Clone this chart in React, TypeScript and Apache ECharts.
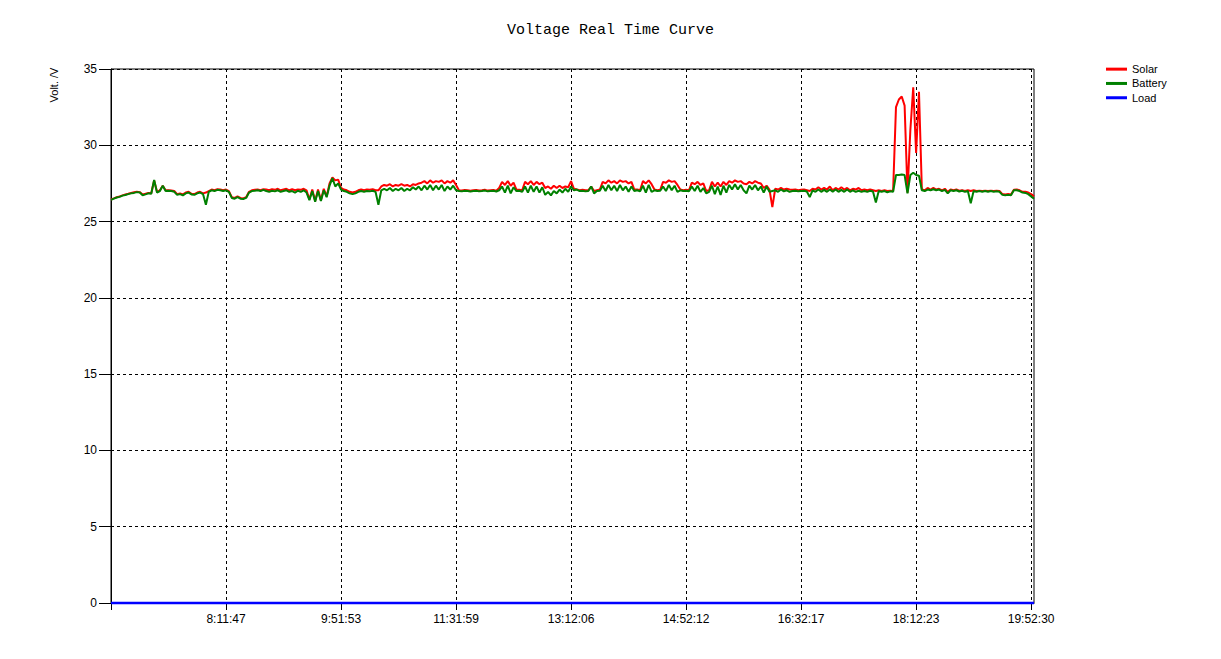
import React, { useEffect, useRef } from "react";
import * as echarts from "echarts";

// Tick labels of the time axis (one every 40 samples)
const timeTicks = ["8:11:47", "9:51:53", "11:31:59", "13:12:06", "14:52:12", "16:32:17", "18:12:23", "19:52:30"];
const samplesPerTick = 40;

const seriesNames = ["Solar", "Battery", "Load"];
const seriesColors = ["#ff0000", "#008000", "#0000ff"];

// Solar panel voltage (V)
const solar = [
  26.45, 26.52, 26.6, 26.65, 26.72, 26.78, 26.82, 26.88, 26.92, 26.95,
  26.93, 26.78, 26.82, 26.88, 26.86, 27.7, 26.95, 27.05, 27.35, 27.05,
  27.05, 27.03, 27.0, 26.8, 26.85, 26.78, 26.9, 26.95, 26.82, 26.8,
  26.9, 26.95, 26.85, 26.9, 27.0, 27.1, 27.05, 27.12, 27.1, 27.05,
  27.1, 27.0, 26.6, 26.55, 26.65, 26.55, 26.52, 26.6, 26.95, 27.05,
  27.08, 27.1, 27.05, 27.12, 27.1, 27.05, 27.12, 27.08, 27.15, 27.05,
  27.1, 27.15, 27.05, 27.12, 27.05, 27.1, 27.08, 27.15, 27.05, 26.45,
  27.1, 26.35, 27.1, 26.4, 27.15, 26.65, 27.5, 27.9, 27.7, 27.75,
  27.2, 27.1, 27.05, 26.95, 26.9, 26.95, 27.05, 27.1, 27.05, 27.1,
  27.08, 27.12, 27.05, 27.05, 27.3, 27.4, 27.35, 27.45, 27.3, 27.4,
  27.35, 27.45, 27.35, 27.4, 27.3, 27.45, 27.4, 27.5, 27.55, 27.65,
  27.5, 27.7, 27.55, 27.65, 27.6, 27.7, 27.5, 27.65, 27.55, 27.7,
  27.4, 27.05, 27.03, 27.07, 27.05, 27.02, 27.05, 27.07, 27.03, 27.05,
  27.08, 27.03, 27.05, 27.07, 27.02, 27.2, 27.6, 27.4, 27.65, 27.35,
  27.55, 27.1, 27.08, 27.05, 27.6, 27.45, 27.65, 27.4, 27.6, 27.45,
  27.55, 27.2, 27.3, 27.15, 27.35, 27.2, 27.35, 27.2, 27.3, 27.25,
  27.65, 27.15, 27.1, 27.05, 27.08, 27.05, 27.05, 27.3, 27.0, 27.05,
  27.1, 27.6, 27.5, 27.7, 27.55, 27.65, 27.5, 27.7, 27.6, 27.65,
  27.5, 27.6, 27.1, 27.1, 27.05, 27.65, 27.5, 27.7, 27.45, 27.1,
  27.05, 27.08, 27.6, 27.55, 27.7, 27.6, 27.65, 27.4, 27.1, 27.05,
  27.08, 27.05, 27.55, 27.45, 27.6, 27.4, 27.5, 27.0, 27.05, 27.6,
  27.3, 27.55, 27.3, 27.6, 27.4, 27.65, 27.55, 27.7, 27.6, 27.65,
  27.5, 27.45, 27.6, 27.5, 27.65, 27.55, 27.5, 27.2, 27.35, 27.1,
  25.95, 27.15, 27.1, 27.2, 27.1, 27.15, 27.1, 27.08, 27.1, 27.05,
  27.08, 27.1, 27.05, 27.0, 27.15, 27.1, 27.25, 27.1, 27.2, 27.1,
  27.3, 27.05, 27.2, 27.1, 27.25, 27.1, 27.2, 27.05, 27.15, 27.1,
  27.2, 27.05, 27.1, 27.05, 27.1, 27.05, 27.0, 27.05, 27.0, 27.05,
  27.0, 27.02, 27.0, 32.5, 33.0, 33.2, 32.6, 26.9, 31.0, 33.8,
  29.5, 33.5, 27.1, 27.05, 27.2, 27.1, 27.2, 27.1, 27.15, 27.05,
  27.15, 26.95, 27.1, 27.05, 27.1, 27.02, 27.05, 27.0, 27.05, 27.0,
  27.05, 27.0, 27.02, 27.0, 27.02, 27.0, 27.02, 27.0, 27.02, 27.0,
  26.8, 26.78, 26.8, 26.78, 27.08, 27.1, 27.05, 26.95, 26.95, 26.9,
  26.8, 26.65,
];

// Battery voltage (V)
const battery = [
  26.42, 26.5, 26.58, 26.62, 26.7, 26.74, 26.8, 26.85, 26.88, 26.93,
  26.9, 26.72, 26.78, 26.85, 26.82, 27.72, 26.9, 27.0, 27.35, 27.0,
  27.02, 27.0, 26.95, 26.75, 26.8, 26.72, 26.85, 26.9, 26.78, 26.75,
  26.85, 26.9, 26.8, 26.1, 26.95, 27.05, 27.0, 27.08, 27.05, 27.0,
  27.05, 26.95, 26.55, 26.5, 26.6, 26.5, 26.48, 26.55, 26.9, 27.0,
  27.02, 27.05, 27.0, 27.08, 27.0, 26.95, 27.02, 26.98, 27.05, 26.95,
  27.0, 27.05, 26.95, 27.0, 26.9, 27.02, 26.95, 27.05, 26.9, 26.4,
  27.0, 26.3, 27.0, 26.35, 27.05, 26.6, 27.35, 27.85, 27.3, 27.5,
  27.1, 27.0, 26.95, 26.85, 26.8, 26.85, 26.95, 27.0, 26.95, 27.0,
  26.98, 27.02, 26.95, 26.1, 27.05, 27.15, 27.05, 27.2, 27.0, 27.15,
  27.05, 27.2, 27.0, 27.15, 27.05, 27.25, 27.1, 27.3, 27.05, 27.35,
  27.1, 27.4, 27.05, 27.35, 27.1, 27.4, 27.0, 27.3, 27.1, 27.35,
  27.05, 27.0, 26.98, 27.02, 27.0, 26.97, 27.0, 27.02, 26.98, 27.0,
  27.03, 26.98, 27.0, 27.02, 26.97, 27.05, 27.3, 26.9, 27.35, 26.85,
  27.25, 27.0, 27.02, 26.95, 27.3, 26.9, 27.35, 26.95, 27.3, 26.9,
  27.25, 26.75, 26.95, 26.72, 27.0, 26.85, 27.1, 26.9, 27.15, 26.95,
  27.3, 27.05, 27.1, 27.0, 27.02, 26.98, 27.0, 27.3, 26.85, 27.0,
  27.02, 27.35, 27.0, 27.4, 27.05, 27.35, 27.0, 27.4, 27.05, 27.3,
  26.95, 27.3, 27.0, 27.05, 26.98, 27.35, 26.9, 27.4, 26.95, 27.05,
  27.0, 27.02, 27.3, 27.0, 27.4, 27.05, 27.35, 26.95, 27.05, 27.0,
  27.02, 26.98, 27.3, 27.0, 27.35, 26.95, 27.2, 26.85, 26.95, 27.35,
  26.8, 27.3, 26.75, 27.35, 26.9, 27.4, 27.1, 27.45, 27.1, 27.4,
  27.05, 26.85, 27.35, 27.1, 27.4, 27.05, 27.3, 26.9, 27.3, 26.95,
  27.0, 27.05, 26.95, 27.1, 26.98, 27.05, 26.95, 27.0, 27.02, 26.98,
  27.0, 27.02, 26.97, 26.6, 27.05, 26.95, 27.1, 26.95, 27.08, 26.95,
  27.1, 26.95, 27.1, 26.95, 27.08, 26.95, 27.1, 26.95, 27.05, 26.95,
  27.02, 26.95, 27.0, 26.95, 27.02, 26.97, 26.25, 27.0, 26.95, 27.0,
  26.92, 26.98, 26.95, 28.05, 28.05, 28.08, 28.05, 26.85, 28.05, 28.2,
  28.05, 28.0, 27.05, 27.0, 27.1, 27.05, 27.12, 27.05, 27.1, 27.0,
  27.08, 26.85, 27.05, 27.0, 27.05, 26.97, 27.02, 26.95, 27.0, 26.2,
  27.0, 26.95, 27.0, 26.95, 27.0, 26.95, 27.0, 26.95, 26.98, 26.95,
  26.75, 26.72, 26.75, 26.72, 27.05, 27.05, 27.0, 26.9, 26.88, 26.8,
  26.65, 26.5,
];

// Load voltage (V)
const load = [
  0, 0, 0, 0, 0, 0, 0, 0, 0, 0,
  0, 0, 0, 0, 0, 0, 0, 0, 0, 0,
  0, 0, 0, 0, 0, 0, 0, 0, 0, 0,
  0, 0, 0, 0, 0, 0, 0, 0, 0, 0,
  0, 0, 0, 0, 0, 0, 0, 0, 0, 0,
  0, 0, 0, 0, 0, 0, 0, 0, 0, 0,
  0, 0, 0, 0, 0, 0, 0, 0, 0, 0,
  0, 0, 0, 0, 0, 0, 0, 0, 0, 0,
  0, 0, 0, 0, 0, 0, 0, 0, 0, 0,
  0, 0, 0, 0, 0, 0, 0, 0, 0, 0,
  0, 0, 0, 0, 0, 0, 0, 0, 0, 0,
  0, 0, 0, 0, 0, 0, 0, 0, 0, 0,
  0, 0, 0, 0, 0, 0, 0, 0, 0, 0,
  0, 0, 0, 0, 0, 0, 0, 0, 0, 0,
  0, 0, 0, 0, 0, 0, 0, 0, 0, 0,
  0, 0, 0, 0, 0, 0, 0, 0, 0, 0,
  0, 0, 0, 0, 0, 0, 0, 0, 0, 0,
  0, 0, 0, 0, 0, 0, 0, 0, 0, 0,
  0, 0, 0, 0, 0, 0, 0, 0, 0, 0,
  0, 0, 0, 0, 0, 0, 0, 0, 0, 0,
  0, 0, 0, 0, 0, 0, 0, 0, 0, 0,
  0, 0, 0, 0, 0, 0, 0, 0, 0, 0,
  0, 0, 0, 0, 0, 0, 0, 0, 0, 0,
  0, 0, 0, 0, 0, 0, 0, 0, 0, 0,
  0, 0, 0, 0, 0, 0, 0, 0, 0, 0,
  0, 0, 0, 0, 0, 0, 0, 0, 0, 0,
  0, 0, 0, 0, 0, 0, 0, 0, 0, 0,
  0, 0, 0, 0, 0, 0, 0, 0, 0, 0,
  0, 0, 0, 0, 0, 0, 0, 0, 0, 0,
  0, 0, 0, 0, 0, 0, 0, 0, 0, 0,
  0, 0, 0, 0, 0, 0, 0, 0, 0, 0,
  0, 0, 0, 0, 0, 0, 0, 0, 0, 0,
  0, 0,
];

const yTicks = { min: 0, max: 35, step: 5 };

export default function App() {
  const ref = useRef<HTMLDivElement>(null);

  useEffect(() => {
    if (!ref.current) return;
    const chart = echarts.init(ref.current, undefined, { renderer: "svg" });
    const categories = battery.map((_, i) => String(i));
    const isTick = (i: number) => i > 0 && i % samplesPerTick === 0;
    const sans = "Liberation Sans";

    chart.setOption({
      animation: false,
      backgroundColor: "#ffffff",
      title: {
        text: "Voltage Real Time Curve",
        left: "center",
        top: 23,
        padding: 0,
        textStyle: { fontFamily: "Liberation Mono", fontSize: 15, fontWeight: "normal", color: "#000" },
      },
      legend: {
        orient: "vertical",
        left: 1106,
        top: 62,
        padding: 0,
        icon: "rect",
        itemWidth: 21,
        itemHeight: 3,
        itemGap: 0,
        data: seriesNames,
        textStyle: { fontFamily: sans, fontSize: 11, color: "#000", lineHeight: 14.3 },
      },
      graphic: [
        {
          type: "text",
          x: 54,
          y: 85,
          rotation: Math.PI / 2,
          style: {
            text: "Volt. /V",
            fontFamily: sans,
            fontSize: 11,
            fill: "#000",
            align: "center",
            verticalAlign: "middle",
            textAlign: "center",
            textVerticalAlign: "middle",
          },
        },
      ],
      grid: {
        left: 111,
        top: 69,
        right: 187,
        bottom: 56,
        show: true,
        borderColor: "#000",
        borderWidth: 1,
        backgroundColor: "transparent",
        containLabel: false,
        outerBoundsMode: "none",
      },
      xAxis: {
        type: "category",
        data: categories,
        boundaryGap: false,
        axisLine: { show: true, lineStyle: { color: "#000", width: 1 } },
        axisTick: {
          show: true,
          length: 7,
          interval: (i: number) => i % samplesPerTick === 0,
          lineStyle: { color: "#000" },
        },
        axisLabel: {
          interval: (i: number) => isTick(i),
          formatter: (_v: string, i: number) => timeTicks[i / samplesPerTick - 1] ?? "",
          margin: 10,
          color: "#000",
          fontFamily: sans,
          fontSize: 12,
        },
        splitLine: {
          show: true,
          interval: (i: number) => isTick(i),
          lineStyle: { color: "#000", type: [3, 3], width: 1 },
        },
      },
      yAxis: {
        type: "value",
        min: yTicks.min,
        max: yTicks.max,
        interval: yTicks.step,
        axisLine: { show: true, lineStyle: { color: "#000", width: 1 } },
        axisTick: { show: true, length: 12, lineStyle: { color: "#000" } },
        axisLabel: { margin: 14, color: "#000", fontFamily: sans, fontSize: 12 },
        splitLine: { show: true, lineStyle: { color: "#000", type: [3, 3], width: 1 } },
      },
      series: [
        { name: seriesNames[0], type: "line", data: solar, showSymbol: false, symbol: "none", color: seriesColors[0], lineStyle: { width: 2, color: seriesColors[0] }, z: 3 },
        { name: seriesNames[1], type: "line", data: battery, showSymbol: false, symbol: "none", color: seriesColors[1], lineStyle: { width: 2, color: seriesColors[1] }, z: 4 },
        { name: seriesNames[2], type: "line", data: load, showSymbol: false, symbol: "none", color: seriesColors[2], lineStyle: { width: 2.5, color: seriesColors[2] }, z: 5, clip: false },
      ],
    });

    return () => chart.dispose();
  }, []);

  return (
    <div
      ref={ref}
      style={{ position: "fixed", left: 0, top: 0, width: 1221, height: 659, background: "#fff" }}
    />
  );
}
